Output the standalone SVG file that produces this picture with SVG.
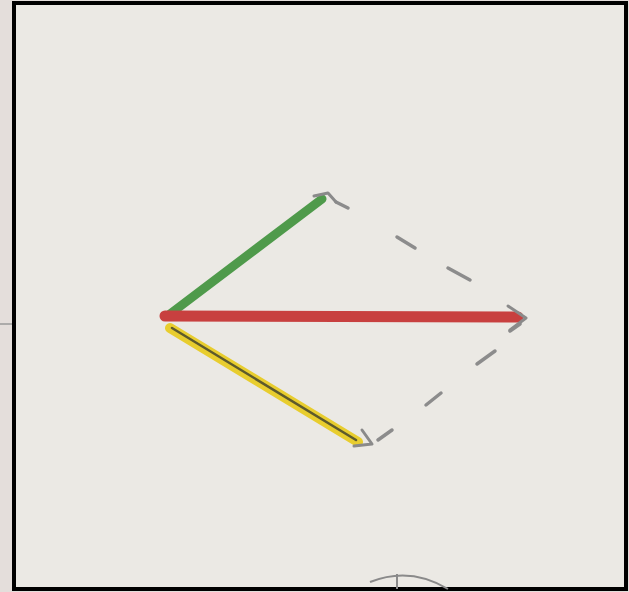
<svg xmlns="http://www.w3.org/2000/svg" width="629" height="592" viewBox="0 0 629 592">
<defs>
<style>
.head{fill:none;stroke:#8a8a8a;stroke-width:3;stroke-linecap:round;stroke-linejoin:round}
.dash{fill:none;stroke:#8c8c8c;stroke-width:3.5;stroke-linecap:round}
</style>
</defs>
<rect x="0" y="0" width="629" height="592" fill="#e4dedb"/>
<line x1="0" y1="324" x2="13" y2="324" stroke="#9a9a9a" stroke-width="1.5"/>
<rect x="14" y="3" width="612" height="586" fill="#ebe9e4" stroke="#000" stroke-width="4"/>
<g id="connectors">
<line class="dash" x1="336" y1="202" x2="348" y2="208"/>
<line class="dash" x1="397" y1="237" x2="415" y2="248"/>
<line class="dash" x1="448" y1="268" x2="470" y2="280"/>
<line class="dash" x1="510" y1="331" x2="520" y2="324"/>
<line class="dash" x1="477" y1="364" x2="495" y2="351"/>
<line class="dash" x1="426" y1="405" x2="441" y2="393"/>
<line class="dash" x1="378" y1="440" x2="392" y2="430"/>
</g>
<g id="green">
<line x1="170" y1="314" x2="322" y2="199" stroke="#4f9a4b" stroke-width="9" stroke-linecap="round"/>
<path class="head" d="M314 196 L328 193 L336 202"/>
</g>
<g id="red">
<line x1="165" y1="316" x2="518" y2="317" stroke="#c8403f" stroke-width="11" stroke-linecap="round"/>
<path class="head" d="M508 306 L526 318 L510 330"/>
</g>
<g id="yellow">
<line x1="170" y1="328" x2="358" y2="442" stroke="#e8cd2e" stroke-width="10" stroke-linecap="round"/>
<line x1="172" y1="328" x2="356" y2="440" stroke="#5d5a2c" stroke-width="2.5" stroke-linecap="round"/>
<path class="head" d="M362 430 L372 444 L354 446"/>
</g>
<g id="bottom">
<path d="M370 582 Q410 566 448 589" fill="none" stroke="#8a8a8a" stroke-width="2"/>
<line x1="397" y1="574" x2="397" y2="589" stroke="#8a8a8a" stroke-width="2"/>
</g>
</svg>
